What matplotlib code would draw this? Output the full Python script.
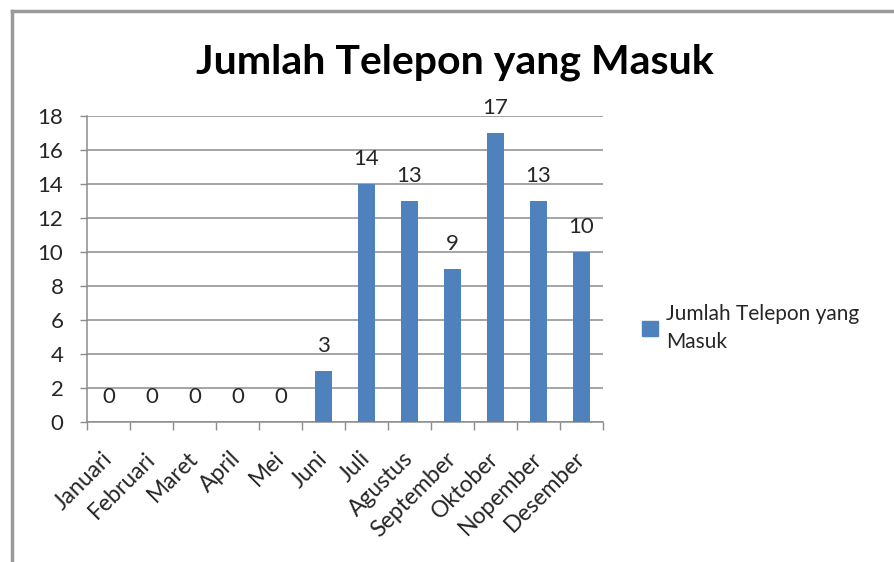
import numpy as np
import matplotlib.pyplot as plt
from matplotlib.lines import Line2D

months = ['Januari', 'Februari', 'Maret', 'April', 'Mei', 'Juni', 'Juli',
          'Agustus', 'September', 'Oktober', 'Nopember', 'Desember']
calls = [0, 0, 0, 0, 0, 3, 14, 13, 9, 17, 13, 10]
yticks = [0, 2, 4, 6, 8, 10, 12, 14, 16, 18]

plt.rcParams['font.family'] = ['Lato', 'DejaVu Sans']
bar_color = '#4F81BD'
text_color = '#262626'

fig = plt.figure(figsize=(8.94, 5.62), dpi=100)
ax = fig.add_axes([87/894, 1-422/562, (603-87)/894, (422-116)/562])

x = np.arange(len(months))
ax.bar(x, calls, width=0.4, color=bar_color, zorder=3)

for xi, v in zip(x, calls):
    ax.annotate(str(v), (xi, v), xytext=(0, 18), textcoords='offset points',
                ha='center', va='center', fontsize=16, color=text_color, zorder=4)

ax.set_xlim(-0.5, len(months) - 0.5)
ax.set_ylim(0, 18)
ax.set_yticks(yticks)
ax.yaxis.grid(True, color='#8c8c8c', linewidth=1.1, zorder=0)
ax.tick_params(axis='y', labelsize=16, colors='#8c8c8c', labelcolor=text_color,
               length=5, width=1, pad=12)

# category ticks between bars, labels centred on bars
ax.set_xticks(np.arange(-0.5, len(months)), minor=False)
ax.set_xticklabels([])
ax.tick_params(axis='x', length=6, width=1, colors='#8c8c8c')
ax.set_xticks(x, minor=True)
ax.set_xticklabels(months, minor=True, rotation=45, ha='right', va='center',
                   rotation_mode='anchor', fontsize=16.5, color=text_color)
ax.tick_params(axis='x', which='minor', length=0, pad=24)

for side in ['top', 'right']:
    ax.spines[side].set_visible(False)
for side in ['left', 'bottom']:
    ax.spines[side].set_color('#8c8c8c')
    ax.spines[side].set_linewidth(1.1)

fig.text(455/894, 1-62/562, 'Jumlah Telepon yang Masuk', ha='center',
         va='center', fontsize=29.5, fontweight='bold', color='black')

handle = plt.Rectangle((0, 0), 1, 1, color=bar_color)
fig.legend([handle], ['Jumlah Telepon yang\nMasuk'], loc='center left',
           bbox_to_anchor=(642/894, 1-328/562), frameon=False, fontsize=15,
           handlelength=0.75, handleheight=0.75, handletextpad=0.4,
           borderpad=0, borderaxespad=0, labelcolor=text_color)
for t in fig.legends[0].get_texts():
    t.set_linespacing(1.55)

# chart border
fig.add_artist(Line2D([12/894, 12/894], [0, 1-11/562], transform=fig.transFigure,
                      color='#9a9a9a', linewidth=2.5))
fig.add_artist(Line2D([12/894, 1], [1-11/562, 1-11/562], transform=fig.transFigure,
                      color='#9a9a9a', linewidth=2.5))

fig.savefig('out.png', dpi=100)
